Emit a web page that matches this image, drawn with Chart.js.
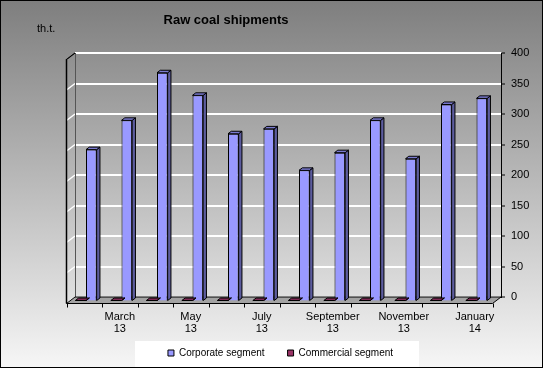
<!DOCTYPE html>
<html>
<head>
<meta charset="utf-8">
<script src="https://cdn.jsdelivr.net/npm/chart.js@4"></script>
<style>
  html, body { margin: 0; padding: 0; background: #fff; }
  canvas { display: block; }
</style>
</head>
<body>
<canvas id="chart" width="543" height="368"></canvas>
<script>
// raw coal shipments, thousand tonnes
const months = ["February", "March", "April", "May", "June", "July", "August", "September", "October", "November", "December", "January"];
const years = ["13", "13", "13", "13", "13", "13", "13", "13", "13", "13", "13", "14"];
const corporate = [249, 297, 375, 338, 275, 283, 215, 244, 297, 234, 323, 333];
const commercial = [1, 1, 1, 1, 1, 1, 1, 1, 1, 1, 1, 1];

const FONT = "'Liberation Sans', Arial, sans-serif";

// fake 3d: floor / left wall depth, bar shift and bar depth
const depth = { x: -8.5, y: 6.5 };
const shift = { x: -6.75, y: 4.5 };
const barDepth = { x: 3.3, y: -2.5 };

const sideColors = { "#9999ff": ["#7a7ad0", "#5c5c9e"], "#993366": ["#7d2a54", "#5e1f3f"] };

function poly(ctx, pts, fill, stroke) {
  ctx.beginPath();
  ctx.moveTo(pts[0][0], pts[0][1]);
  for (let i = 1; i < pts.length; i++) ctx.lineTo(pts[i][0], pts[i][1]);
  ctx.closePath();
  if (fill) { ctx.fillStyle = fill; ctx.fill(); }
  if (stroke) { ctx.strokeStyle = stroke; ctx.stroke(); }
}

const chart3d = {
  id: "chart3d",
  beforeDraw(chart) {
    const { ctx, width, height } = chart;
    const g = ctx.createLinearGradient(0, 0, 0, height);
    g.addColorStop(0, "#7e7e7e");
    g.addColorStop(1, "#f6f6f6");
    ctx.save();
    ctx.fillStyle = g;
    ctx.fillRect(0, 0, width, height);
    // legend panel
    ctx.fillStyle = "#ffffff";
    ctx.fillRect(135, 341, 284, 26);
    ctx.restore();
  },
  beforeDatasetsDraw(chart) {
    const { ctx, chartArea: a, scales } = chart;
    const ys = scales.y, xs = scales.x;
    ctx.save();
    // left wall gridlines
    ctx.strokeStyle = "#ffffff";
    ctx.lineWidth = 1.5;
    ys.ticks.forEach(t => {
      const y = ys.getPixelForValue(t.value);
      ctx.beginPath();
      ctx.moveTo(a.left, y);
      ctx.lineTo(a.left + depth.x, y + depth.y);
      ctx.stroke();
    });
    // back edge of left wall
    ctx.strokeStyle = "#555";
    ctx.lineWidth = 1;
    ctx.beginPath();
    ctx.moveTo(a.left + 0.5, a.top);
    ctx.lineTo(a.left + 0.5, a.bottom);
    ctx.stroke();
    // front edge of left wall
    ctx.strokeStyle = "#000";
    ctx.lineWidth = 1.5;
    ctx.beginPath();
    ctx.moveTo(a.left, a.top);
    ctx.lineTo(a.left + depth.x, a.top + depth.y);
    ctx.lineTo(a.left + depth.x, a.bottom + depth.y);
    ctx.stroke();
    // floor
    ctx.lineWidth = 1;
    poly(ctx, [[a.left, a.bottom], [a.right, a.bottom], [a.right + depth.x, a.bottom + depth.y], [a.left + depth.x, a.bottom + depth.y]], "#a3a3a3", "#000");
    // category ticks on the front edge
    ctx.beginPath();
    for (let i = 0; i <= months.length; i++) {
      const x = Math.round(xs.getPixelForValue(i - 0.5) + depth.x) + 0.5;
      ctx.moveTo(x, a.bottom + depth.y);
      ctx.lineTo(x, a.bottom + depth.y + 4);
    }
    ctx.stroke();
    ctx.restore();

    ctx.save();
    ctx.translate(shift.x, shift.y);
  },
  afterDatasetsDraw(chart) {
    const { ctx } = chart;
    ctx.lineWidth = 1;
    chart.data.datasets.forEach((ds, di) => {
      const meta = chart.getDatasetMeta(di);
      const [topC, sideC] = sideColors[ds.backgroundColor];
      meta.data.forEach(el => {
        const { x, y, base, width } = el.getProps(["x", "y", "base", "width"], true);
        const l = x - width / 2, r = x + width / 2, t = Math.min(y, base);
        poly(ctx, [[r, t], [r + barDepth.x, t + barDepth.y], [r + barDepth.x, base + barDepth.y], [r, base]], sideC, "#000");
        poly(ctx, [[l, t], [r, t], [r + barDepth.x, t + barDepth.y], [l + barDepth.x, t + barDepth.y]], topC, "#000");
      });
    });
    ctx.restore();
  },
  afterDraw(chart) {
    const { ctx, width, height, chartArea: a } = chart;
    const xs = chart.scales.x;
    ctx.save();
    ctx.fillStyle = "#000";
    ctx.textBaseline = "middle";
    ctx.textAlign = "center";
    ctx.font = "bold 13px " + FONT;
    ctx.fillText("Raw coal shipments", 226, 20);
    // category labels under the front edge, every second month
    ctx.font = "11px " + FONT;
    months.forEach((m, i) => {
      if (i % 2 === 0) return;
      const x = xs.getPixelForValue(i) + depth.x;
      ctx.fillText(m, x, a.bottom + 19.5);
      ctx.fillText(years[i], x, a.bottom + 32);
    });
    ctx.textAlign = "left";
    ctx.fillText("th.t.", 37, 29);
    ctx.strokeStyle = "#000";
    ctx.lineWidth = 1;
    ctx.strokeRect(0.5, 0.5, width - 1, height - 1);
    ctx.restore();
  }
};

new Chart(document.getElementById("chart"), {
  type: "bar",
  data: {
    labels: months.map((m, i) => m + " " + years[i]),
    datasets: [
      { label: "Commercial segment", data: commercial, backgroundColor: "#993366", borderColor: "#000", borderWidth: 1 },
      { label: "Corporate segment", data: corporate, backgroundColor: "#9999ff", borderColor: "#000", borderWidth: 1 }
    ]
  },
  plugins: [chart3d],
  options: {
    responsive: false,
    animation: false,
    events: [],
    categoryPercentage: 0.6,
    barPercentage: 1,
    layout: { padding: { left: 18, top: 53, right: 0, bottom: 0 } },
    scales: {
      x: {
        grid: { display: false, drawTicks: false },
        border: { display: false },
        ticks: { display: false },
        afterFit(s) { s.height = 28; }
      },
      y: {
        position: "right",
        min: 0,
        max: 400,
        afterFit(s) { s.width = 42; },
        grid: { color: "#ffffff", lineWidth: 2, tickColor: "#000", tickWidth: 1, tickLength: 4 },
        border: { color: "#000", width: 1 },
        ticks: { stepSize: 50, padding: 6, color: "#000", font: { family: FONT, size: 11 } }
      },
      pad: {
        type: "linear",
        position: "left",
        ticks: { display: false },
        grid: { display: false, drawTicks: false },
        border: { display: false },
        afterFit(s) { s.width = 57; }
      }
    },
    plugins: {
      tooltip: { enabled: false },
      legend: {
        position: "bottom",
        reverse: true,
        labels: {
          boxWidth: 6,
          boxHeight: 6,
          padding: 23,
          color: "#000",
          font: { family: FONT, size: 10 }
        }
      }
    }
  }
});
</script>
</body>
</html>
